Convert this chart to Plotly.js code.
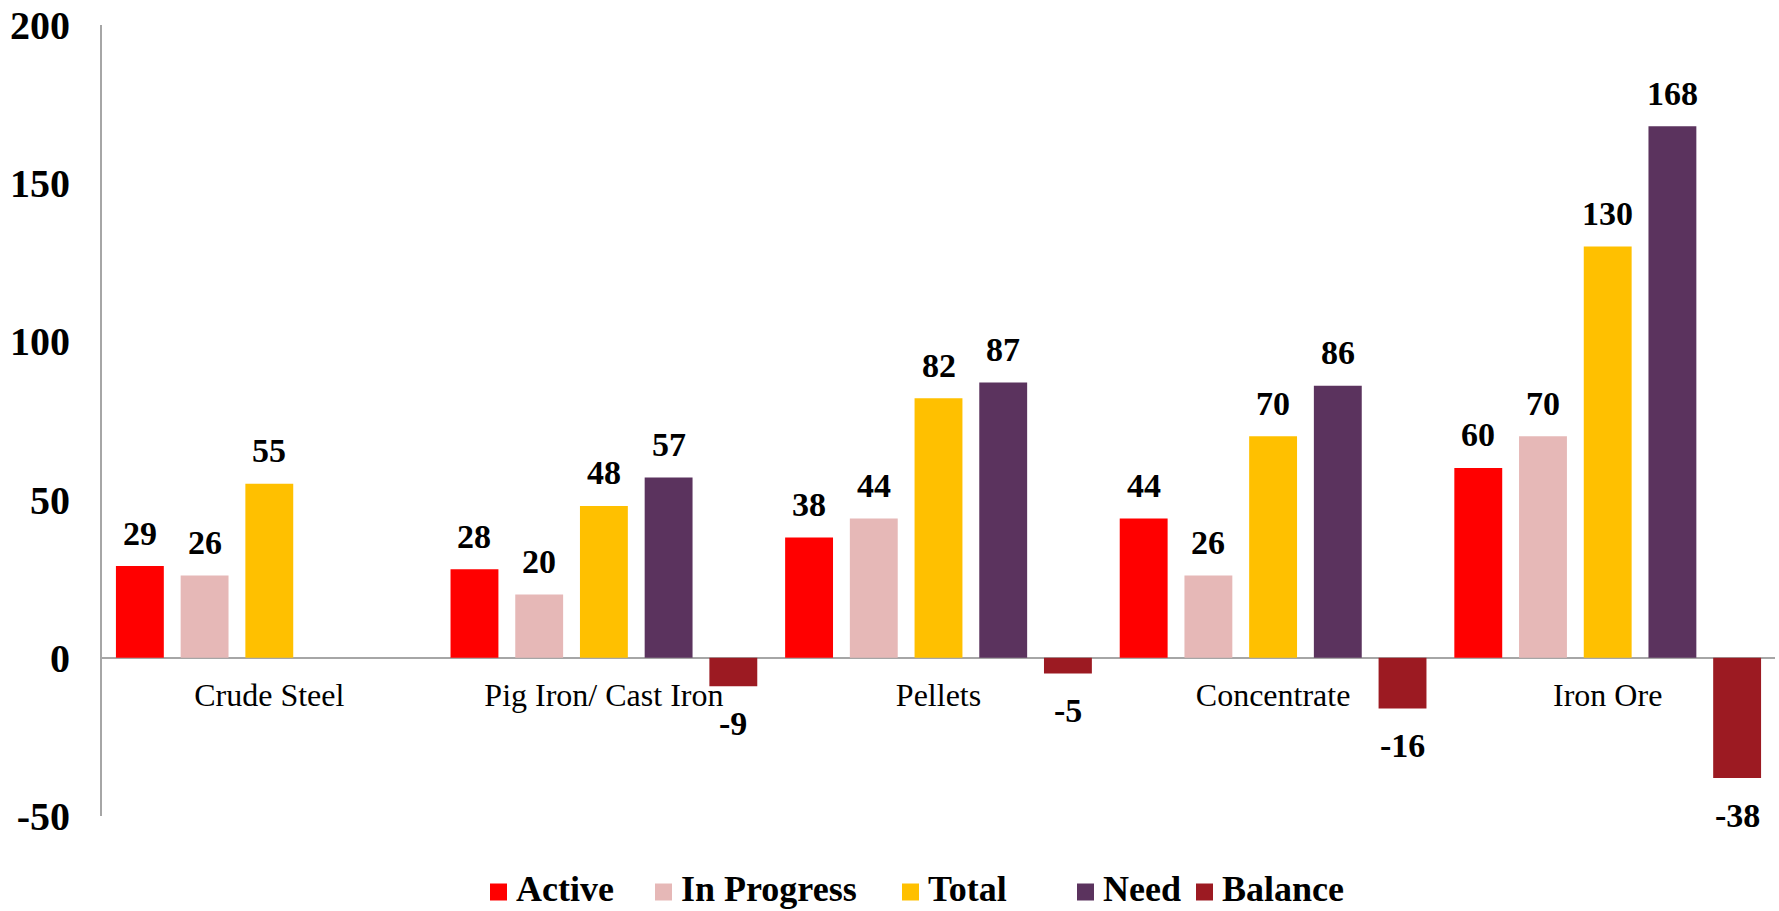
<!DOCTYPE html>
<html>
<head>
<meta charset="utf-8">
<script src="https://cdn.plot.ly/plotly-3.0.1.min.js"></script>
<style>html,body{margin:0;padding:0;background:#fff;}#chart{width:1779px;height:911px;}</style>
</head>
<body>
<div id="chart"></div>
<script>
const categories = ["Crude Steel", "Pig Iron/ Cast Iron", "Pellets", "Concentrate", "Iron Ore"];
const active = [29, 28, 38, 44, 60];
const inProgress = [26, 20, 44, 26, 70];
const total = [55, 48, 82, 70, 130];
const need = [null, 57, 87, 86, 168];
const balance = [null, -9, -5, -16, -38];
const yTicks = [-50, 0, 50, 100, 150, 200];

const seriesNames = ["Active", "In Progress", "Total", "Need", "Balance"];
const seriesValues = [active, inProgress, total, need, balance];
const seriesColors = ["#FF0000", "#E6B8B7", "#FFC000", "#5B335E", "#9C1A22"];

const FONT = "Liberation Serif, Times New Roman, serif";
const W = 1779, H = 911;
const M = {l: 102, r: 4, t: 25, b: 95};
const BARGAP = 0.033;
const YRANGE = [-50, 200];

const plotW = W - M.l - M.r;
const plotH = H - M.t - M.b;
const slotPx = plotW / categories.length * (1 - BARGAP) / seriesNames.length;

const traces = seriesNames.map((name, i) => ({
  type: "bar",
  name: name,
  x: categories,
  y: seriesValues[i],
  marker: {color: seriesColors[i]},
  showlegend: false,
  hoverinfo: "x+y+name"
}));

// data labels
const annotations = [];
seriesValues.forEach((vals, i) => {
  vals.forEach((v, j) => {
    if (v === null) return;
    annotations.push({
      xref: "x", yref: "y",
      x: categories[j], y: v,
      xshift: (i - (seriesNames.length - 1) / 2) * slotPx,
      yshift: v >= 0 ? 33 : -37,
      yanchor: "middle", xanchor: "center",
      text: String(v),
      showarrow: false,
      font: {family: FONT, size: 34, color: "#000", weight: "bold"}
    });
  });
});

// manual legend
const legendLeft = [490, 655, 902, 1077, 1196];
const legendY = 889;
const legendBox = 17;
const shapes = [];
seriesNames.forEach((name, i) => {
  const x0 = legendLeft[i];
  shapes.push({
    type: "rect", xref: "paper", yref: "paper",
    x0: (x0 - M.l) / plotW, x1: (x0 + legendBox - M.l) / plotW,
    y0: (H - M.b - (legendY + 3 + legendBox / 2)) / plotH,
    y1: (H - M.b - (legendY + 3 - legendBox / 2)) / plotH,
    fillcolor: seriesColors[i], line: {width: 0}
  });
  annotations.push({
    xref: "paper", yref: "paper",
    x: (x0 + legendBox + 8 - M.l) / plotW,
    y: (H - M.b - legendY) / plotH,
    xanchor: "left", yanchor: "middle",
    borderpad: 0,
    text: name, showarrow: false,
    font: {family: FONT, size: 36, color: "#000", weight: "bold"}
  });
});

const layout = {
  width: W,
  height: H,
  margin: M,
  paper_bgcolor: "#fff",
  plot_bgcolor: "#fff",
  barmode: "group",
  bargap: BARGAP,
  bargroupgap: 0.26,
  font: {family: FONT, color: "#000"},
  showlegend: false,
  annotations: annotations,
  shapes: shapes,
  xaxis: {
    type: "category",
    anchor: "free",
    position: (0 - YRANGE[0]) / (YRANGE[1] - YRANGE[0]),
    showline: true,
    linecolor: "#a6a6a6",
    linewidth: 2,
    showgrid: false,
    zeroline: false,
    ticks: "",
    ticklabelstandoff: 9,
    tickfont: {family: FONT, size: 32, color: "#000"},
    layer: "below traces"
  },
  yaxis: {
    range: YRANGE,
    tickvals: yTicks,
    ticktext: yTicks.map(String),
    showline: true,
    linecolor: "#a6a6a6",
    linewidth: 2,
    showgrid: false,
    zeroline: false,
    ticks: "",
    ticklabelstandoff: 22,
    tickfont: {family: FONT, size: 40, color: "#000", weight: "bold"}
  }
};

Plotly.newPlot("chart", traces, layout, {displayModeBar: false, staticPlot: true});
</script>
</body>
</html>
